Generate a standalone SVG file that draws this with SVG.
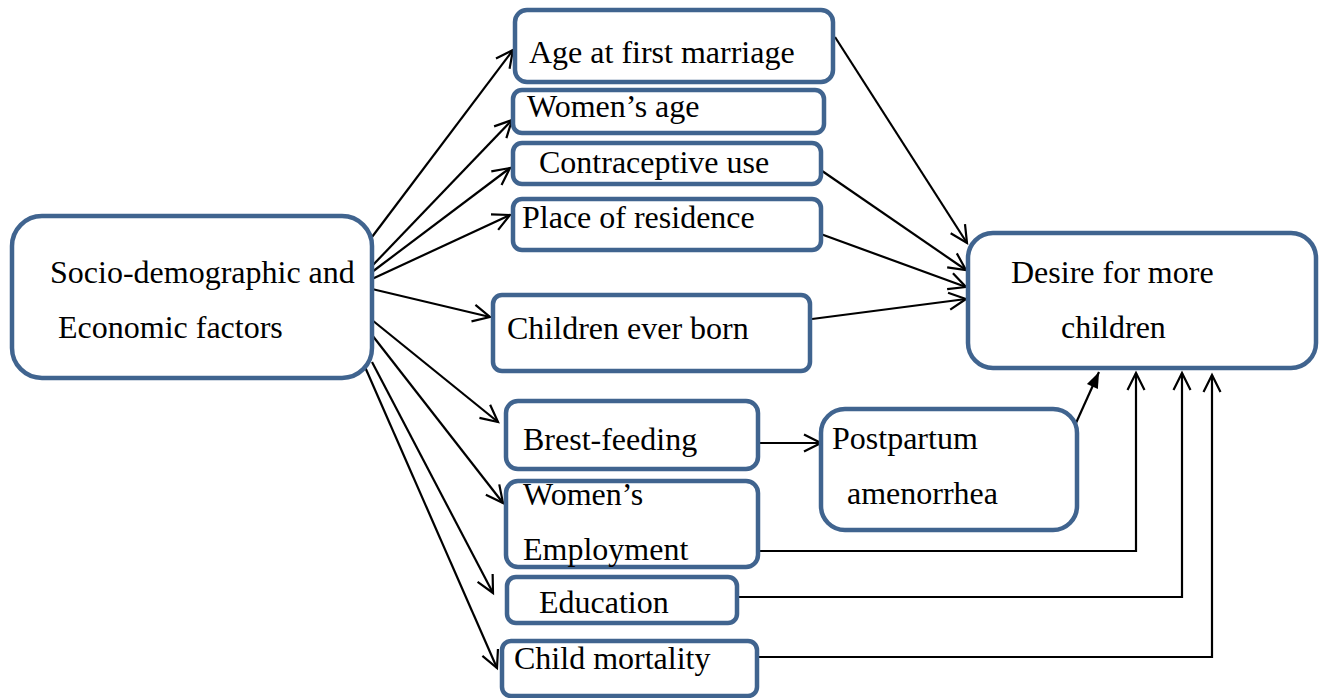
<svg xmlns="http://www.w3.org/2000/svg" width="1319" height="698" viewBox="0 0 1319 698">
<style>
.box{fill:#ffffff;stroke:#40648f;stroke-width:4.5}
.t{font-family:"Liberation Serif","Times New Roman",serif;font-size:32px;fill:#000}
.c{fill:none;stroke:#000;stroke-width:2.2}
</style>
<defs>
<marker id="open" markerUnits="userSpaceOnUse" markerWidth="22" markerHeight="22" viewBox="0 0 22 22" refX="19" refY="11" orient="auto">
<path d="M2,2.5 L19,11 L2,19.5" fill="none" stroke="#000" stroke-width="2.2"/>
</marker>
<marker id="filled" markerUnits="userSpaceOnUse" markerWidth="18" markerHeight="18" viewBox="0 0 18 18" refX="17" refY="9" orient="auto">
<path d="M1,3 L17,9 L1,15 Z" fill="#000"/>
</marker>
</defs>
<rect width="1319" height="698" fill="#fff"/>
<g id="connectors">
<line class="c" x1="372" y1="237" x2="513" y2="50" marker-end="url(#open)"/>
<line class="c" x1="372" y1="266" x2="512" y2="120" marker-end="url(#open)"/>
<line class="c" x1="372" y1="272" x2="510" y2="168" marker-end="url(#open)"/>
<line class="c" x1="372" y1="279" x2="510" y2="215" marker-end="url(#open)"/>
<line class="c" x1="372" y1="289" x2="490" y2="317" marker-end="url(#open)"/>
<line class="c" x1="372" y1="320" x2="498" y2="422" marker-end="url(#open)"/>
<line class="c" x1="372" y1="335" x2="503" y2="503" marker-end="url(#open)"/>
<line class="c" x1="372" y1="362" x2="493" y2="593" marker-end="url(#open)"/>
<line class="c" x1="365" y1="367" x2="497" y2="668" marker-end="url(#open)"/>
<line class="c" x1="835" y1="37" x2="967" y2="243" marker-end="url(#open)"/>
<line class="c" x1="812" y1="164" x2="966" y2="270" marker-end="url(#open)"/>
<line class="c" x1="818" y1="233" x2="966" y2="287" marker-end="url(#open)"/>
<line class="c" x1="812" y1="319" x2="966" y2="299" marker-end="url(#open)"/>
<line class="c" x1="758" y1="443" x2="821" y2="443" marker-end="url(#open)"/>
<line class="c" x1="1076" y1="423" x2="1099" y2="372" marker-end="url(#filled)"/>
<polyline class="c" points="758,551 1136,551 1136,373" marker-end="url(#open)"/>
<polyline class="c" points="737,597 1182,597 1182,373" marker-end="url(#open)"/>
<polyline class="c" points="757,657 1212,657 1212,375" marker-end="url(#open)"/>
</g>
<g id="socio">
<rect class="box" x="12" y="216" width="360" height="162" rx="30"/>
<text class="t" x="50" y="283">Socio-demographic and</text>
<text class="t" x="58" y="338">Economic factors</text>
</g>
<g id="age-marriage">
<rect class="box" x="515" y="10" width="318" height="72" rx="12"/>
<text class="t" x="529" y="63">Age at first marriage</text>
</g>
<g id="women-age">
<rect class="box" x="513" y="90" width="311" height="43" rx="9"/>
<text class="t" x="527" y="117">Women’s age</text>
</g>
<g id="contraceptive">
<rect class="box" x="513" y="143" width="308" height="41" rx="9"/>
<text class="t" x="539" y="173">Contraceptive use</text>
</g>
<g id="residence">
<rect class="box" x="513" y="199" width="308" height="51" rx="9"/>
<text class="t" x="522" y="228">Place of residence</text>
</g>
<g id="ceb">
<rect class="box" x="493" y="295" width="317" height="76" rx="9"/>
<text class="t" x="507" y="339">Children ever born</text>
</g>
<g id="breast">
<rect class="box" x="506" y="401" width="252" height="68" rx="12"/>
<text class="t" x="523" y="450">Brest-feeding</text>
</g>
<g id="employment">
<rect class="box" x="506" y="481" width="252" height="86" rx="12"/>
<text class="t" x="523" y="505">Women’s</text>
<text class="t" x="523" y="560">Employment</text>
</g>
<g id="education">
<rect class="box" x="507" y="577" width="230" height="46" rx="9"/>
<text class="t" x="539" y="613">Education</text>
</g>
<g id="child-mortality">
<rect class="box" x="502" y="641" width="255" height="55" rx="9"/>
<text class="t" x="514" y="669">Child mortality</text>
</g>
<g id="postpartum">
<rect class="box" x="821" y="409" width="256" height="121" rx="24"/>
<text class="t" x="832" y="449">Postpartum</text>
<text class="t" x="847" y="504">amenorrhea</text>
</g>
<g id="desire">
<rect class="box" x="968" y="233" width="348" height="135" rx="25"/>
<text class="t" x="1011" y="283">Desire for more</text>
<text class="t" x="1061" y="338">children</text>
</g>
</svg>
